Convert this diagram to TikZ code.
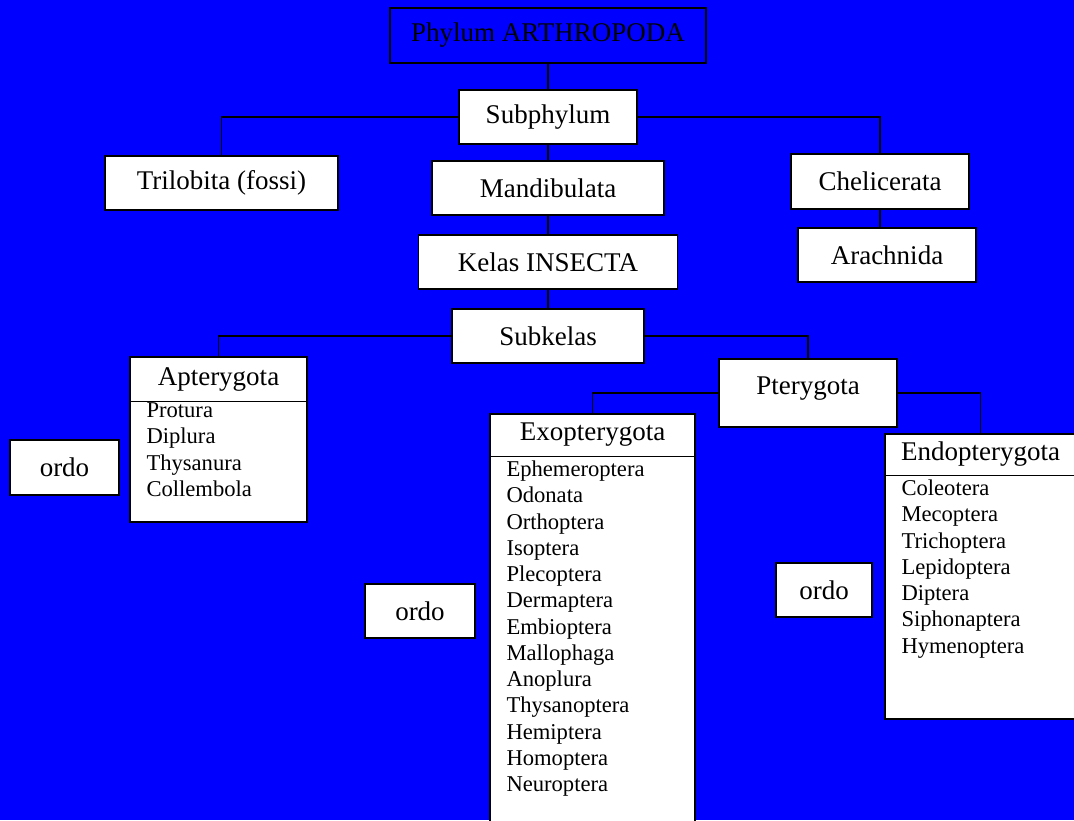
\documentclass[tikz,border=0pt]{standalone}
\usepackage{fontspec}
\setmainfont{Liberation Serif}
\usetikzlibrary{positioning}

\tikzset{
  box/.style={draw, fill=white, line width=1.4pt, minimum height=54pt, inner sep=0pt,
    font=\fontsize{27}{32}\selectfont},
  grp/.style={draw, fill=white, line width=1.4pt, inner sep=0pt},
  ttl/.style={inner sep=0pt, font=\fontsize{27}{32}\selectfont},
  lst/.style={inner sep=0pt, align=left, font=\fontsize{22.6}{26.25}\selectfont},
  con/.style={line width=1.4pt}
}

\begin{document}
\begin{tikzpicture}[x=1pt, y=-1pt]
	\useasboundingbox (0,0) rectangle (1074,820);
	\fill[blue] (0,0) rectangle (1074,820);

	% upper levels
	\node[box, fill=none, minimum width=316pt, minimum height=55pt] (phylum) at (548,35.5) {Phylum ARTHROPODA};
	\node[box, minimum width=178pt] (subph) at (548,117) {Subphylum};
	\node[box, minimum width=233pt] (trilo) at (221.5,183) {Trilobita (fossi)};
	\node[box, minimum width=232pt] (mandi) at (548,188) {Mandibulata};
	\node[box, minimum width=178pt, minimum height=55pt] (cheli) at (880,181.5) {Chelicerata};
	\node[box, minimum width=178pt] (arach) at (887,255) {Arachnida};
	\node[box, minimum width=259pt] (kelas) at (548,262) {Kelas INSECTA};
	\node[box, minimum width=192pt] (subkel) at (548,336) {Subkelas};
	\node[box, minimum width=178pt, minimum height=68pt, text depth=15pt] (ptery) at (808,393) {Pterygota};

	% ordo groups
	\node[grp, minimum width=177pt, minimum height=165pt] (apt) at (218.5,439.5) {};
	\node[ttl, minimum height=45pt, below=0pt of apt.north] (aptT) {Apterygota};
	\coordinate (aptD) at (apt.west |- aptT.south);
	\node[lst, below right=1pt and 17pt of aptD] (aptL) {Protura\\Diplura\\Thysanura\\Collembola};

	\node[grp, minimum width=205pt, minimum height=416pt] (exo) at (592.5,622) {};
	\node[ttl, minimum height=43pt, below=0pt of exo.north] (exoT) {Exopterygota};
	\coordinate (exoD) at (exo.west |- exoT.south);
	\node[lst, below right=4pt and 17pt of exoD] (exoL) {Ephemeroptera\\Odonata\\Orthoptera\\Isoptera\\Plecoptera\\Dermaptera\\Embioptera\\Mallophaga\\Anoplura\\Thysanoptera\\Hemiptera\\Homoptera\\Neuroptera};

	\node[grp, minimum width=191pt, minimum height=285pt] (endo) at (980.5,576.5) {};
	\node[ttl, minimum height=42pt, below=0pt of endo.north] (endoT) {Endopterygota};
	\coordinate (endoD) at (endo.west |- endoT.south);
	\node[lst, below right=4pt and 17pt of endoD] (endoL) {Coleotera\\Mecoptera\\Trichoptera\\Lepidoptera\\Diptera\\Siphonaptera\\Hymenoptera};

	\node[box, minimum width=109pt, minimum height=55pt] (ordoA) at (64.5,467.5) {ordo};
	\node[box, minimum width=110pt] (ordoB) at (420,611) {ordo};
	\node[box, minimum width=96pt] (ordoC) at (824,590) {ordo};

	% connectors
	\draw[con] (phylum) -- (subph);
	\draw[con] (subph.west) -| (trilo.north);
	\draw[con] (subph.east) -| (cheli.north);
	\draw[con] (subph) -- (mandi);
	\draw[con] (cheli) -- (cheli |- arach.north);
	\draw[con] (mandi) -- (kelas);
	\draw[con] (kelas) -- (subkel);
	\draw[con] (subkel.west) -| (apt.north);
	\draw[con] (subkel.east) -| (ptery.north);
	\draw[con] (ptery.west) -| (exo.north);
	\draw[con] (ptery.east) -| (endo.north);
	\draw[con] (aptD) -- (apt.east |- aptD);
	\draw[con] (exoD) -- (exo.east |- exoD);
	\draw[con] (endoD) -- (endo.east |- endoD);
\end{tikzpicture}
\end{document}
